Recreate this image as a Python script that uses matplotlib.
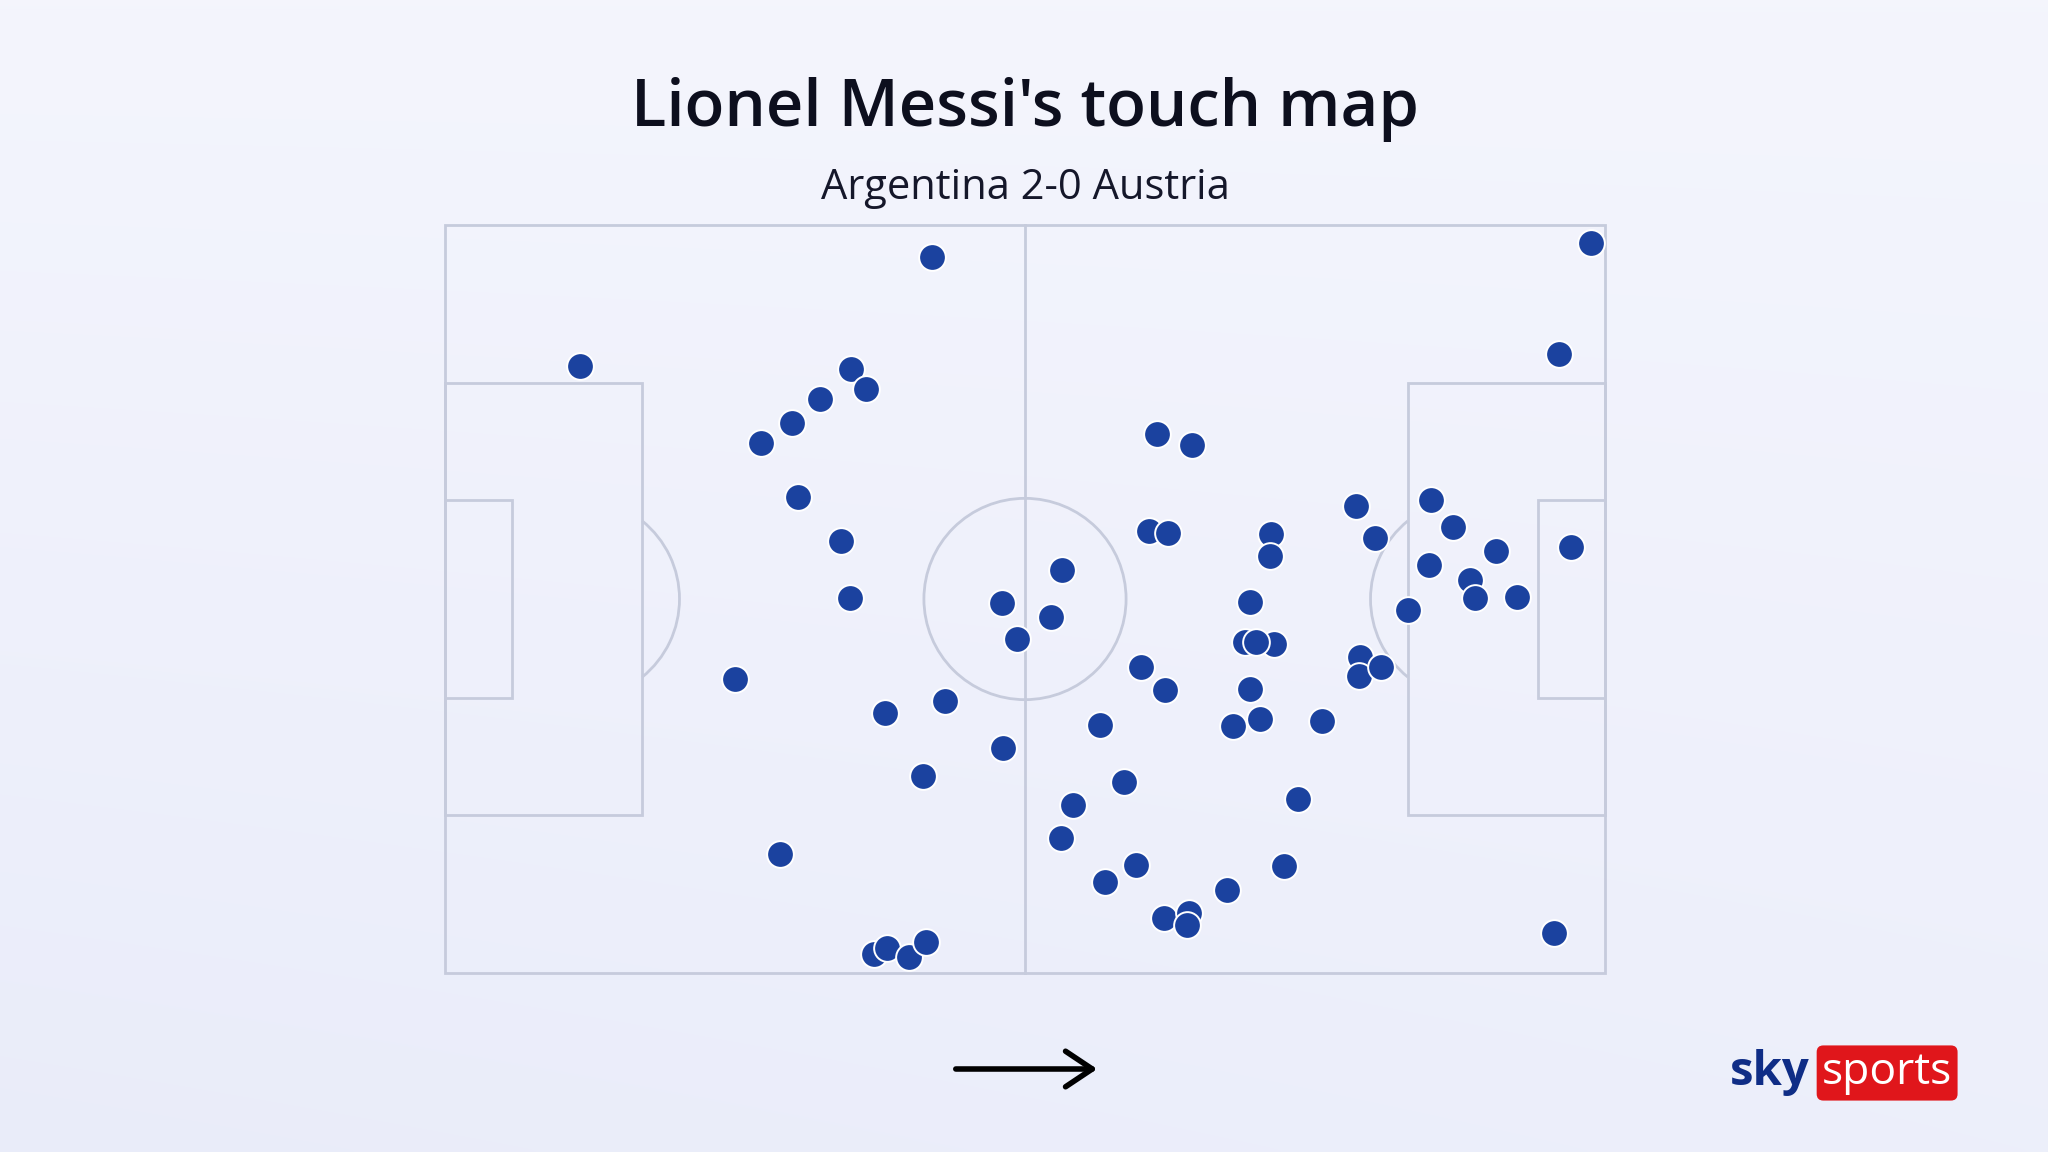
import numpy as np
import matplotlib
matplotlib.use("Agg")
import matplotlib.pyplot as plt
from matplotlib.patches import Rectangle, Circle, Arc

# ---------------- data (Opta-style %, x = attacking direction, y from top) ----
touch_x = [42.0, 11.6, 35.0, 36.3, 32.3, 29.9, 27.2, 30.4, 34.1, 34.9, 48.0,
           98.8, 96.0, 61.4, 64.4, 60.7, 62.3, 71.2, 71.1, 78.5, 80.2, 85.0,
           86.9, 90.6, 97.1, 84.8, 88.4, 88.8, 92.4, 53.2, 52.2, 69.4, 83.0,
           49.3, 25.0, 37.9, 43.1, 48.1, 41.2, 28.9, 37.0, 38.1, 40.0, 41.5,
           69.0, 71.5, 69.9, 60.0, 62.1, 69.4, 78.9, 78.8, 80.7, 56.5, 67.9,
           70.3, 75.6, 58.5, 54.1, 53.1, 73.5, 59.6, 56.9, 72.3, 67.4, 62.0,
           64.1, 64.0, 95.6]
touch_y = [4.3, 18.9, 19.3, 21.9, 23.2, 26.5, 29.1, 36.4, 42.2, 49.9, 50.6,
           2.4, 17.3, 28.0, 29.4, 40.9, 41.2, 41.3, 44.2, 37.6, 41.8, 36.7,
           40.4, 43.6, 43.1, 45.4, 47.5, 49.9, 49.7, 46.1, 52.4, 50.4, 51.5,
           55.4, 60.7, 65.3, 63.6, 69.9, 73.6, 84.1, 97.4, 96.7, 97.8, 95.8,
           55.7, 56.0, 55.8, 59.1, 62.1, 62.0, 57.8, 60.3, 59.1, 66.9, 67.0,
           66.1, 66.3, 74.4, 77.5, 81.9, 76.7, 85.6, 87.9, 85.7, 88.9, 92.6,
           92.0, 93.6, 94.6]

title_text = "Lionel Messi's touch map"
subtitle_text = "Argentina 2-0 Austria"

# ---------------- figure ----------------
W, H = 2048, 1152
fig = plt.figure(figsize=(W / 100, H / 100), dpi=100)

# background gradient
bg = fig.add_axes([0, 0, 1, 1], zorder=0)
yy, xx = np.mgrid[0:1:300j, 0:1:500j]
t = 0.55 * yy + 0.25 * (1 - xx) * yy
top = np.array([0.957, 0.961, 0.992])
bot = np.array([0.905, 0.918, 0.975])
img = top[None, None, :] * (1 - t[..., None]) + bot[None, None, :] * t[..., None]
bg.imshow(img, aspect="auto", extent=[0, 1, 1, 0], interpolation="bicubic")
bg.set_axis_off()

# pitch axes
L, R, T, B = 445, 1605, 225, 973
ax = fig.add_axes([L / W, 1 - B / H, (R - L) / W, (B - T) / H], zorder=1)
ax.set_xlim(0, 105)
ax.set_ylim(68, 0)
ax.set_axis_off()
ax.patch.set_alpha(0)

lc = "#c6cbdc"
lw = 2.0
kw = dict(fill=False, ec=lc, lw=lw, clip_on=False)
ax.add_patch(Rectangle((0, 0), 105, 68, **kw))
ax.plot([52.5, 52.5], [0, 68], color=lc, lw=lw, clip_on=False)
ax.add_patch(Circle((52.5, 34), 9.15, **kw))
pa_d, pa_y0, pa_y1 = 0.17 * 105, 0.211 * 68, 0.789 * 68
sy_d, sy_y0, sy_y1 = 0.058 * 105, 0.368 * 68, 0.632 * 68
spot = 0.115 * 105
ang = np.degrees(np.arccos((pa_d - spot) / 9.15))
ax.add_patch(Rectangle((0, pa_y0), pa_d, pa_y1 - pa_y0, **kw))
ax.add_patch(Rectangle((0, sy_y0), sy_d, sy_y1 - sy_y0, **kw))
ax.add_patch(Arc((spot, 34), 18.3, 18.3, theta1=-ang, theta2=ang, ec=lc, lw=lw))
ax.add_patch(Rectangle((105 - pa_d, pa_y0), pa_d, pa_y1 - pa_y0, **kw))
ax.add_patch(Rectangle((105 - sy_d, sy_y0), sy_d, sy_y1 - sy_y0, **kw))
ax.add_patch(Arc((105 - spot, 34), 18.3, 18.3, theta1=180 - ang,
                 theta2=180 + ang, ec=lc, lw=lw))

px = np.array(touch_x) * 1.05
py = np.array(touch_y) * 0.68
ax.scatter(px, py, s=370, c="#1b429f", edgecolors="white", linewidths=1.4,
           zorder=5, clip_on=False)

# texts
fig.text(1025 / W, 1 - 109 / H, title_text, ha="center", va="center",
         fontsize=47, fontweight="semibold", family="Open Sans", color="#0d0f1e")
fig.text(1025 / W, 1 - 188 / H, subtitle_text, ha="center", va="center",
         fontsize=30, family="Open Sans", color="#15172a")

# direction arrow
fig.add_artist(matplotlib.patches.FancyArrowPatch(
    (953 / W, 1 - 1069 / H), (1100 / W, 1 - 1069 / H),
    transform=fig.transFigure, arrowstyle="->,head_length=12,head_width=8",
    lw=4, color="black", mutation_scale=1.6))

# logo
fig.text(1810 / W, 1 - 1073 / H, "sky", ha="right", va="center", fontsize=34,
         fontweight="bold", family="Open Sans", color="#0f2d86")
fig.text(1822 / W, 1 - 1073 / H, "sports", ha="left", va="center", fontsize=32,
         family="Open Sans", color="white",
         bbox=dict(boxstyle="round,pad=0.12,rounding_size=0.15", fc="#e0161b",
                   ec="none"))

fig.savefig("out.png", dpi=100)
